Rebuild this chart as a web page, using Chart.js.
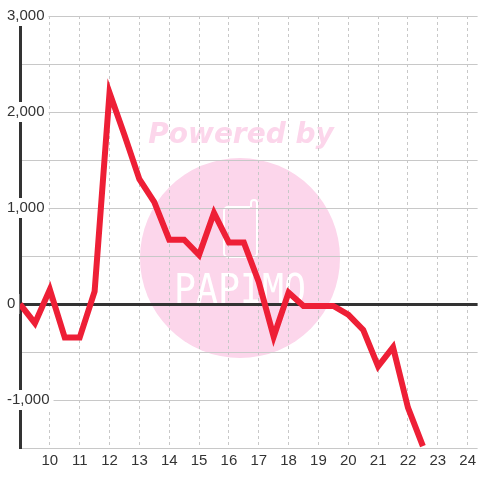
<!DOCTYPE html>
<html>
<head>
<meta charset="utf-8">
<script src="https://cdn.jsdelivr.net/npm/chart.js@4"></script>
<style>
  html, body { margin: 0; padding: 0; background: #fff; }
  #wrap { width: 480px; height: 480px; }
</style>
</head>
<body>
<div id="wrap"><canvas id="myChart"></canvas></div>
<script>
// hour of day and running value
const hours = [9, 9.5, 10, 10.5, 11, 11.5, 12, 12.5, 13, 13.5, 14, 14.5, 15, 15.5,
  16, 16.5, 17, 17.5, 18, 18.5, 19, 19.5, 20, 20.5, 21, 21.5, 22, 22.5];
const values = [0, -200, 150, -350, -350, 130, 2200, 1760, 1300, 1060, 670, 670, 510, 950,
  640, 640, 230, -340, 120, -20, -20, -20, -110, -270, -650, -450, -1080, -1480];
const xTicks = [10, 11, 12, 13, 14, 15, 16, 17, 18, 19, 20, 21, 22, 23, 24];
const yMin = -1500;
const yMax = 3000;
const yStep = 500;

const watermark = {
  id: 'watermark',
  beforeDraw(chart) {
    const c = chart.ctx;
    c.save();
    c.fillStyle = '#fcd6eb';
    c.beginPath();
    c.arc(240, 258, 100, 0, Math.PI * 2);
    c.fill();
    c.font = 'italic bold 28px "DejaVu Sans"';
    c.textAlign = 'center';
    c.textBaseline = 'alphabetic';
    c.fillText('Powered by', 241, 143);
    // phone icon
    c.strokeStyle = '#fff';
    c.lineWidth = 2;
    c.beginPath();
    c.moveTo(250, 207);
    c.lineTo(228, 207);
    c.arcTo(224, 207, 224, 211, 4);
    c.lineTo(224, 253);
    c.arcTo(224, 257, 228, 257, 4);
    c.lineTo(253, 257);
    c.arcTo(257, 257, 257, 253, 4);
    c.lineTo(257, 203);
    c.arcTo(257, 200, 254, 200, 3);
    c.arcTo(251, 200, 251, 203, 3);
    c.lineTo(251, 207);
    c.stroke();
    c.fillStyle = '#fff';
    c.font = '40px "DejaVu Sans Mono"';
    c.fillText('PAPIMO', 240, 303, 132);
    c.restore();
  }
};

new Chart(document.getElementById('myChart'), {
  type: 'line',
  data: {
    datasets: [{
      data: hours.map((h, i) => ({ x: h, y: values[i] })),
      borderColor: '#ee1f36',
      borderWidth: 6,
      pointRadius: 0,
      tension: 0,
      fill: false
    }]
  },
  options: {
    responsive: true,
    maintainAspectRatio: false,
    animation: false,
    layout: { padding: { left: 6, top: 16, right: 0, bottom: 0 } },
    plugins: {
      legend: { display: false },
      tooltip: { enabled: false }
    },
    scales: {
      x: {
        type: 'linear',
        min: 9,
        max: 24 + 1 / 3,
        afterBuildTicks: s => { s.ticks = xTicks.map(v => ({ value: v })); },
        afterFit: s => { s.height = 32; },
        grid: { color: '#c8c8c8', lineWidth: 1, drawTicks: false },
        border: { display: false, dash: [3, 3] },
        ticks: {
          padding: 4,
          color: '#333',
          font: { family: 'Liberation Sans', size: 15 },
          maxRotation: 0,
          autoSkip: false
        }
      },
      y: {
        min: yMin,
        max: yMax,
        afterFit: s => { s.width = 14; },
        grid: {
          color: c => c.tick && c.tick.value === 0 ? '#333' : '#c8c8c8',
          lineWidth: c => c.tick && c.tick.value === 0 ? 3 : 1,
          drawTicks: false
        },
        border: { display: true, color: '#333', width: 3 },
        ticks: {
          stepSize: yStep,
          mirror: true,
          padding: -13,
          crossAlign: 'near',
          color: '#333',
          font: { family: 'Liberation Sans', size: 15 },
          callback: v => v % 1000 === 0 ? v.toLocaleString('en-US') : '',
          showLabelBackdrop: c => !!c.tick && c.tick.value % 1000 === 0,
          backdropColor: '#fff',
          backdropPadding: { x: 4, y: 1 },
          autoSkip: false
        }
      }
    }
  },
  plugins: [watermark]
});
</script>
</body>
</html>
